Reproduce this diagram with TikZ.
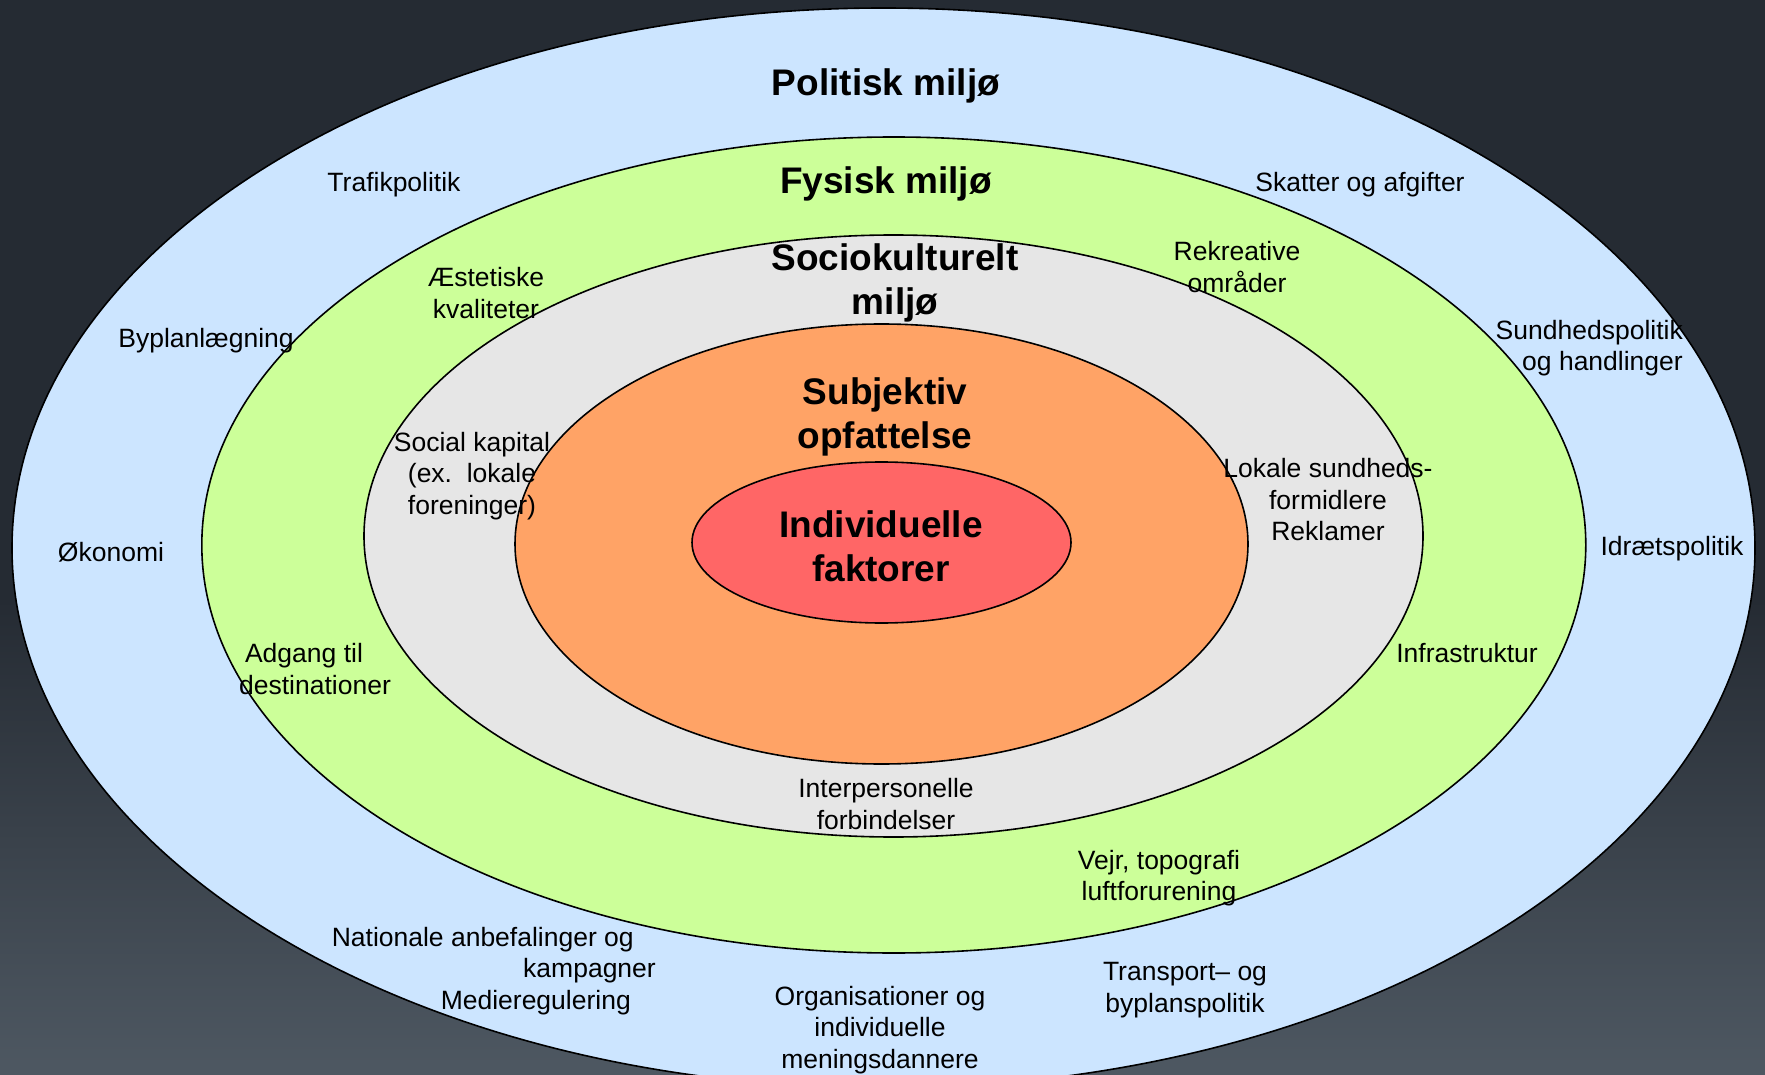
\documentclass[tikz,border=0pt]{standalone}
\usepackage{fontspec}
\setmainfont{Liberation Sans}
\definecolor{bgtop}{HTML}{252B33}
\definecolor{bgbot}{HTML}{4E5862}
\definecolor{polblue}{HTML}{CCE5FF}
\definecolor{fysgreen}{HTML}{CCFF99}
\definecolor{socgray}{HTML}{E6E6E6}
\definecolor{subor}{HTML}{FFA366}
\definecolor{indred}{HTML}{FF6666}
\begin{document}
\begin{tikzpicture}[x=1pt,y=-1pt,
  ring/.style={draw=black,line width=1.6pt},
  lbl/.style={inner sep=0pt,align=center,font=\fontsize{26.5}{31.5}\selectfont},
  ttl/.style={inner sep=0pt,align=center,font=\fontsize{37}{44}\selectfont\bfseries}]
\useasboundingbox (0,0) rectangle (1765,1075);
\clip (0,0) rectangle (1765,1075);
\fill[bgtop] (0,0) rectangle (1765,600);
\shade[top color=bgtop,bottom color=bgbot] (0,599) rectangle (1765,1075);
% rings
\draw[ring,fill=polblue] (883.5,548) ellipse [x radius=871.5pt,y radius=540pt];
\draw[ring,fill=fysgreen] (893.8,545) ellipse [x radius=692pt,y radius=408pt];
\draw[ring,fill=socgray] (893.5,536) ellipse [x radius=529.5pt,y radius=301pt];
\draw[ring,fill=subor] (881.5,544) ellipse [x radius=366.5pt,y radius=220pt];
\draw[ring,fill=indred] (881.5,542.5) ellipse [x radius=189.5pt,y radius=80.5pt];
% titles
\node[ttl] (politisk) at (886,85.5) {Politisk miljø};
\node[ttl] (fysisk) at (886,183.5) {Fysisk miljø};
\node[ttl] (socio) at (895,283) {Sociokulturelt\\miljø};
\node[ttl] (subj) at (885,417) {Subjektiv\\opfattelse};
\node[ttl] (indiv) at (881,546.5) {Individuelle\\faktorer};
% labels
\node[lbl] (trafik) at (394,185) {Trafikpolitik};
\node[lbl] (skatter) at (1360,185) {Skatter og afgifter};
\node[lbl] (aestetik) at (486,293) {Æstetiske\\kvaliteter};
\node[lbl] (rekreativ) at (1237,267) {Rekreative\\områder};
\node[lbl] (byplan) at (206,341) {Byplanlægning};
\node[lbl,align=right,anchor=east] (sundhed) at (1683,348) {Sundhedspolitik\\og handlinger};
\node[lbl] (social) at (472,476) {Social kapital\\(ex.\ \ lokale\\foreninger)};
\node[lbl] (lokale) at (1328,500) {Lokale sundheds-\\formidlere\\Reklamer};
\node[lbl] (oekonomi) at (111,552) {Økonomi};
\node[lbl] (idraet) at (1672,549) {Idrætspolitik};
\node[lbl] (adgang) at (315,669) {Adgang til\hspace*{22pt}\\destinationer};
\node[lbl] (infra) at (1467,653) {Infrastruktur};
\node[lbl] (interp) at (886,804) {Interpersonelle\\forbindelser};
\node[lbl] (vejr) at (1159,878) {Vejr, topografi\\luftforurening};
\node[lbl,anchor=east] (nat1) at (634,940) {Nationale anbefalinger og};
\node[lbl,anchor=east] (nat2) at (656,971) {kampagner};
\node[lbl,anchor=east] (medie) at (631,1003) {Medieregulering};
\node[lbl] (organ) at (880,1030) {Organisationer og\\individuelle\\meningsdannere};
\node[lbl] (transport) at (1185,990) {Transport– og\\byplanspolitik};
\end{tikzpicture}
\end{document}
